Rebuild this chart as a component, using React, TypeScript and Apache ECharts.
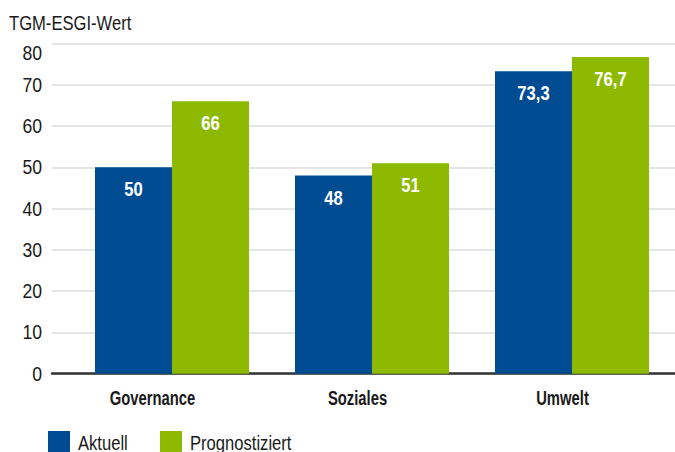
import React, { useEffect, useRef } from "react";
import * as echarts from "echarts";

const categories = ["Governance", "Soziales", "Umwelt"];
const aktuell = [50, 48, 73.3];
const prognostiziert = [66, 51, 76.7];
const seriesNames = ["Aktuell", "Prognostiziert"];
const yAxisTitle = "TGM-ESGI-Wert";
const yMax = 80;

const FONT = "'Liberation Sans', Arial, sans-serif";
const BLUE = "#004c93";
const GREEN = "#8dba00";
const TEXT = "#1a1a1a";

const fmt = (v: number) => String(v).replace(".", ",");

// Narrow the rendered SVG texts horizontally to imitate the condensed typeface.
function condenseTexts(root: HTMLElement | null) {
  if (!root) return;
  root.querySelectorAll("svg text").forEach((node) => {
    const t = node as SVGTextElement;
    if (t.getAttribute("data-cond")) return;
    const s = t.textContent || "";
    const len = t.getComputedTextLength();
    if (!len) return;
    const st = t.getAttribute("style") || "";
    const bold = /bold|700/.test(st);
    const numeric = /^[\d,.\s]+$/.test(s);
    const f = numeric ? (bold ? 0.79 : 0.88) : bold ? 0.74 : 0.79;
    t.setAttribute("textLength", String(len * f));
    t.setAttribute("lengthAdjust", "spacingAndGlyphs");
    t.setAttribute("data-cond", "1");
  });
}

export default function App() {
  const ref = useRef<HTMLDivElement>(null);
  useEffect(() => {
    if (!ref.current) return;
    const chart = echarts.init(ref.current, null, { renderer: "svg" });
    const label = {
      show: true,
      position: "insideTop",
      distance: 11,
      color: "#fff",
      fontFamily: FONT,
      fontWeight: "bold",
      fontSize: 21,
      formatter: (p: any) => fmt(p.value),
    };
    const legendBase = {
      top: 431,
      padding: 0,
      itemWidth: 22,
      itemHeight: 22,
      icon: "rect",
      textStyle: { fontFamily: FONT, fontSize: 21, color: TEXT, padding: [0, 0, 0, 3] },
    };
    const top = 43.5;
    const bottom = 78.3;
    const tickText = { fontFamily: FONT, fontSize: 20, color: TEXT, align: "right" };
    chart.setOption({
      animation: false,
      backgroundColor: "#fff",
      textStyle: { fontFamily: FONT },
      title: {
        text: yAxisTitle,
        left: 9,
        top: 12,
        padding: 0,
        textStyle: { fontFamily: FONT, fontWeight: "normal", fontSize: 21, color: TEXT },
      },
      legend: [
        { ...legendBase, left: 48, data: [seriesNames[0]] },
        { ...legendBase, left: 160, data: [seriesNames[1]] },
      ],
      grid: [
        { left: 52, right: 0, top, bottom },
        { left: 72, right: 3, top, bottom },
        { left: 50, right: 10, top, bottom },
      ],
      xAxis: [
        {
          type: "value",
          gridIndex: 0,
          min: 0,
          max: 1,
          axisLine: { show: true, onZero: false, lineStyle: { color: "#333", width: 2.5 } },
          axisTick: { show: false },
          axisLabel: { show: false },
          splitLine: { show: false },
        },
        {
          type: "category",
          gridIndex: 1,
          data: categories,
          axisLine: { show: false },
          axisTick: { show: false },
          axisLabel: { show: false },
        },
        {
          type: "category",
          gridIndex: 2,
          data: categories,
          axisLine: { show: false },
          axisTick: { show: false },
          axisLabel: {
            margin: 14,
            fontFamily: FONT,
            fontWeight: "bold",
            fontSize: 20,
            color: TEXT,
          },
        },
      ],
      yAxis: [
        {
          type: "value",
          gridIndex: 0,
          min: 0,
          max: yMax,
          interval: 10,
          axisLine: { show: false },
          axisTick: { show: false },
          axisLabel: {
            margin: 10,
            ...tickText,
            formatter: (v: number) => (v === yMax ? `{top|${v}}` : `{n|${v}}`),
            rich: {
              n: { ...tickText },
              top: { ...tickText, padding: [18, 0, 0, 0] },
            },
          },
          splitLine: { show: true, lineStyle: { color: "#dcdcdc", width: 1.5 } },
        },
        {
          type: "value",
          gridIndex: 1,
          min: 0,
          max: yMax,
          interval: 10,
          show: false,
          splitLine: { show: false },
        },
        {
          type: "value",
          gridIndex: 2,
          min: 0,
          max: yMax,
          interval: 10,
          show: false,
          splitLine: { show: false },
        },
      ],
      series: [
        {
          name: seriesNames[0],
          type: "bar",
          xAxisIndex: 1,
          yAxisIndex: 1,
          data: aktuell,
          barWidth: 77,
          barGap: "0%",
          itemStyle: { color: BLUE },
          label,
        },
        {
          name: seriesNames[1],
          type: "bar",
          xAxisIndex: 1,
          yAxisIndex: 1,
          data: prognostiziert,
          barWidth: 77,
          barGap: "0%",
          itemStyle: { color: GREEN },
          label,
        },
      ],
    });
    condenseTexts(ref.current);
    const onRendered = () => condenseTexts(ref.current);
    chart.on("rendered", onRendered);
    return () => {
      chart.off("rendered", onRendered);
      chart.dispose();
    };
  }, []);
  return <div ref={ref} style={{ width: 675, height: 452, position: "absolute", left: 0, top: 0 }} />;
}
